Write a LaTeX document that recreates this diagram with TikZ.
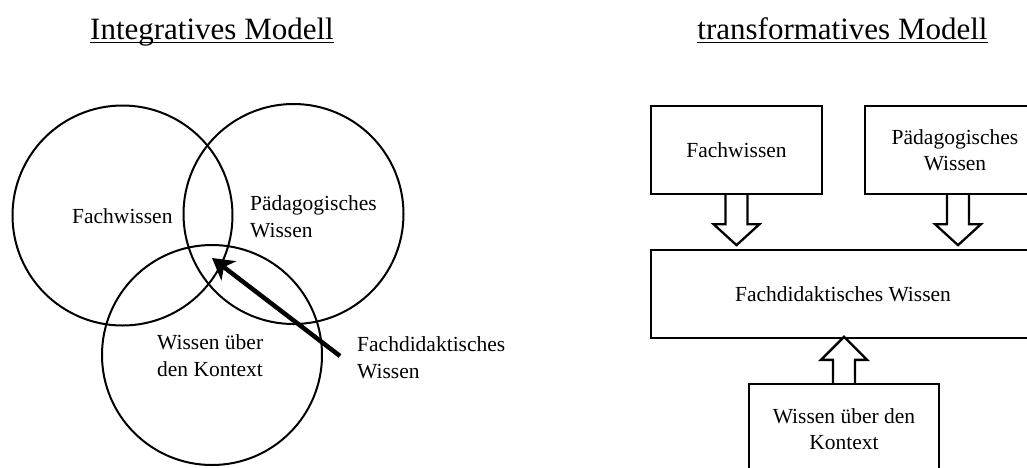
\documentclass[tikz,border=0pt]{standalone}
\usepackage{fontspec}
\setmainfont{Liberation Serif}
\usetikzlibrary{arrows.meta,calc}
\begin{document}
\begin{tikzpicture}[x=1pt,y=-1pt,
  ttl/.style={font=\fontsize{31}{36}\selectfont, inner sep=0pt, anchor=base},
  uline/.style={line width=1.5pt},
  lbl/.style={font=\fontsize{21.5}{26.5}\selectfont, inner sep=0pt, align=left, anchor=base west},
  ring/.style={draw, circle, line width=2pt, minimum size=220pt, inner sep=0pt},
  box/.style={draw, line width=2.3pt, align=center, font=\fontsize{21.5}{26.5}\selectfont, inner sep=0pt},
  blk/.style={draw, line width=2.3pt, line join=miter},
  pointer/.style={line width=4.5pt, -{Stealth[length=21pt,width=24pt,inset=6pt]}},
]
\useasboundingbox (0,0) rectangle (1027,467);
\clip (0,0) rectangle (1027,467);

% ---------- left: integratives Modell ----------
\node[ttl] (t1) at (212,39) {Integratives Modell};
\draw[uline] ($(t1.base west)+(0,3.5)$) -- ($(t1.base east)+(0,3.5)$);

\node[ring] (c1) at (122.5,215.5) {};
\node[ring] (c2) at (293.5,214) {};
\node[ring] (c3) at (212,355) {};

\node[lbl] (l1) at (72,223) {Fachwissen};
\node[lbl] (l2) at (250,237) {Pädagogisches\\Wissen};
\node[lbl] (l3) at (157,376) {Wissen über\\den Kontext};
\node[lbl] (l4) at (357,378) {Fachdidaktisches\\Wissen};

\coordinate (atail) at (340,356);
\coordinate (atip) at (212,258);
\draw[pointer] (atail) -- (atip);

% ---------- right: transformatives Modell ----------
\node[ttl] (t2) at (842.5,39) {transformatives Modell};
\draw[uline] ($(t2.base west)+(0,3.5)$) -- ($(t2.base east)+(0,3.5)$);

\node[box, minimum width=171pt, minimum height=88pt] (bf) at (736.5,150) {Fachwissen};
\node[box, minimum width=180pt, minimum height=88pt] (bp) at (955,150) {Pädagogisches\\Wissen};
\node[box, minimum width=384pt, minimum height=88pt] (bd) at (843,294) {Fachdidaktisches Wissen};
\node[box, minimum width=190pt, minimum height=90pt] (bk) at (844,429) {Wissen über den\\Kontext};

% block arrows
\draw[blk] ($(bf.south)+(-11,0)$) -- ++(0,29) -- ++(-12,0) -- ++(23,21) -- ++(23,-21) -- ++(-12,0) -- ++(0,-29);
\draw[blk] ($(bp.south)+(-8,0)$) -- ++(0,29) -- ++(-12,0) -- ++(23,21) -- ++(23,-21) -- ++(-12,0) -- ++(0,-29);
\draw[blk] ($(bk.north)+(-11,0)$) -- ++(0,-23) -- ++(-12,0) -- ++(23,-23) -- ++(23,23) -- ++(-12,0) -- ++(0,23);
\end{tikzpicture}
\end{document}
